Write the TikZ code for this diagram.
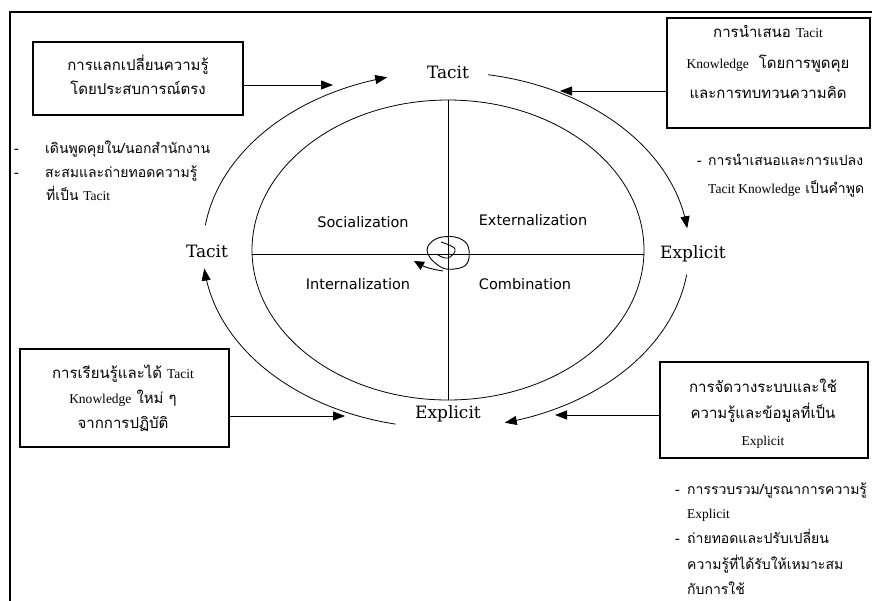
\documentclass[tikz,border=0pt]{standalone}
\usepackage{fontspec}
\setmainfont{Liberation Serif}
\newfontfamily\thaifont[Script=Thai]{Loma}
\newfontfamily\cycfont{DejaVu Serif}
\newfontfamily\latfont{Liberation Serif}
\newfontfamily\qfont{DejaVu Sans}
\usetikzlibrary{arrows.meta}
\newcommand{\lt}[1]{{\latfont\fontsize{13.5}{15}\selectfont #1}}
\begin{document}
\begin{tikzpicture}[x=1pt,y=-1pt,
  box/.style={draw, line width=1.1pt, inner sep=0pt},
  th/.style={font={\thaifont\fontsize{15}{20}\selectfont}, inner sep=0pt, anchor=base},
  bul/.style={font={\thaifont\fontsize{14}{20}\selectfont}, inner sep=0pt, anchor=base west},
  cyc/.style={font={\cycfont\fontsize{17}{20}\selectfont}, inner sep=0pt, anchor=base},
  quadlbl/.style={font={\qfont\fontsize{14.5}{17}\selectfont}, inner sep=0pt},
  arr/.style={-{Triangle[length=12pt,width=9pt]}, line width=0.9pt},
  ring/.style={line width=0.8pt}]
\useasboundingbox (0,0) rectangle (872,600);
\clip (0,0) rectangle (872,600);
\fill[white] (0,0) rectangle (872,600);
% frame
\draw[line width=1.5pt] (10,620) -- (10,12) -- (890,12);
% inner ellipse and axes
\draw[ring] (448,250) ellipse [x radius=196pt, y radius=150pt];
\draw[ring] (252,254) -- (644,254);
\draw[ring] (448,100) -- (448,400);
% quadrant labels
\node[quadlbl] (soc) at (363,222) {Socialization};
\node[quadlbl] (ext) at (533,220) {Externalization};
\node[quadlbl] (int) at (358,284) {Internalization};
\node[quadlbl] (com) at (525,284) {Combination};
% cycle labels
\node[cyc] (tT) at (448,78) {Tacit};
\node[cyc] (tL) at (207,257) {Tacit};
\node[cyc] (eR) at (693,258) {Explicit};
\node[cyc] (eB) at (448,418) {Explicit};
% outer arcs
\draw[ring,-{Triangle[length=12pt,width=9pt]}] plot[domain=172:104, samples=60, smooth] ({446+243*cos(\x)},{250-178*sin(\x)});
\draw[ring,-{Triangle[length=12pt,width=9pt]}] plot[domain=80:7, samples=60, smooth] ({446+243*cos(\x)},{250-178*sin(\x)});
\draw[ring,-{Triangle[length=12pt,width=9pt]}] plot[domain=-8:-76, samples=60, smooth] ({446+243*cos(\x)},{250-178*sin(\x)});
\draw[ring,-{Triangle[length=12pt,width=9pt]}] plot[domain=-102:-174, samples=60, smooth] ({446+243*cos(\x)},{250-178*sin(\x)});
% centre scribble
\draw[line width=0.9pt] plot[smooth cycle, tension=0.6] coordinates {(428,246)(438,238)(455,237)(467,244)(469,258)(463,267)(446,269)(434,262)(428,254)};
\draw[line width=0.9pt] plot[smooth, tension=0.7] coordinates {(441,242)(455,249)(448,258)(438,255)};
\draw[line width=0.9pt, -{Triangle[length=10pt,width=9pt]}] (443,271) to[bend left=10] (414,261);
% boxes
\node[box, minimum width=210pt, minimum height=73pt] (b1) at (138,78.5) {};
\node[box, minimum width=203pt, minimum height=110pt] (b2) at (768.5,73) {};
\node[box, minimum width=209pt, minimum height=98pt] (b3) at (124.5,398) {};
\node[box, minimum width=208pt, minimum height=96pt] (b4) at (764,410) {};
% box texts
\node[th] (b1a) at (138,70) {การแลกเปลี่ยนความรู้};
\node[th] (b1b) at (138,94) {โดยประสบการณ์ตรง};
\node[th] (b2a) at (768,37) {การนำเสนอ \lt{Tacit}};
\node[th] (b2b) at (768,68) {\lt{Knowledge}\ \ โดยการพูดคุย};
\node[th] (b2c) at (768,98) {และการทบทวนความคิด};
\node[th] (b3a) at (123,378) {การเรียนรู้และได้ \lt{Tacit}};
\node[th] (b3b) at (123,403) {\lt{Knowledge} ใหม่ ๆ};
\node[th] (b3c) at (123,428) {จากการปฏิบัติ};
\node[th] (b4a) at (763,392) {การจัดวางระบบและใช้};
\node[th] (b4b) at (763,418) {ความรู้และข้อมูลที่เป็น};
\node[th] (b4c) at (763,445) {\lt{Explicit}};
% box connectors
\coordinate (a1) at (333,85);
\coordinate (a2) at (560,91);
\coordinate (a3) at (345,416);
\coordinate (a4) at (555,415);
\draw[arr] (b1.east |- a1) -- (a1);
\draw[arr] (b2.west |- a2) -- (a2);
\draw[arr] (b3.east |- a3) -- (a3);
\draw[arr] (b4.west |- a4) -- (a4);
% bullets left
\node[bul] (d1) at (14,153) {-};
\node[bul] (l1) at (45,153) {เดินพูดคุยใน/นอกสำนักงาน};
\node[bul] (d2) at (14,177) {-};
\node[bul] (l2) at (45,177) {สะสมและถ่ายทอดความรู้};
\node[bul] (l3) at (46,200) {ที่เป็น \lt{Tacit}};
% bullets right top
\node[bul] (d3) at (697,165) {-};
\node[bul] (r1) at (708,165) {การนำเสนอและการแปลง};
\node[bul] (r2) at (708,193) {\lt{Tacit Knowledge} เป็นคำพูด};
% bullets right bottom
\node[bul] (d4) at (675,494) {-};
\node[bul] (s1) at (687,494) {การรวบรวม/บูรณาการความรู้};
\node[bul] (s2) at (687,518) {\lt{Explicit}};
\node[bul] (d5) at (675,543) {-};
\node[bul] (s3) at (687,543) {ถ่ายทอดและปรับเปลี่ยน};
\node[bul] (s4) at (687,569) {ความรู้ที่ได้รับให้เหมาะสม};
\node[bul] (s5) at (687,594) {กับการใช้};
\end{tikzpicture}
\end{document}
